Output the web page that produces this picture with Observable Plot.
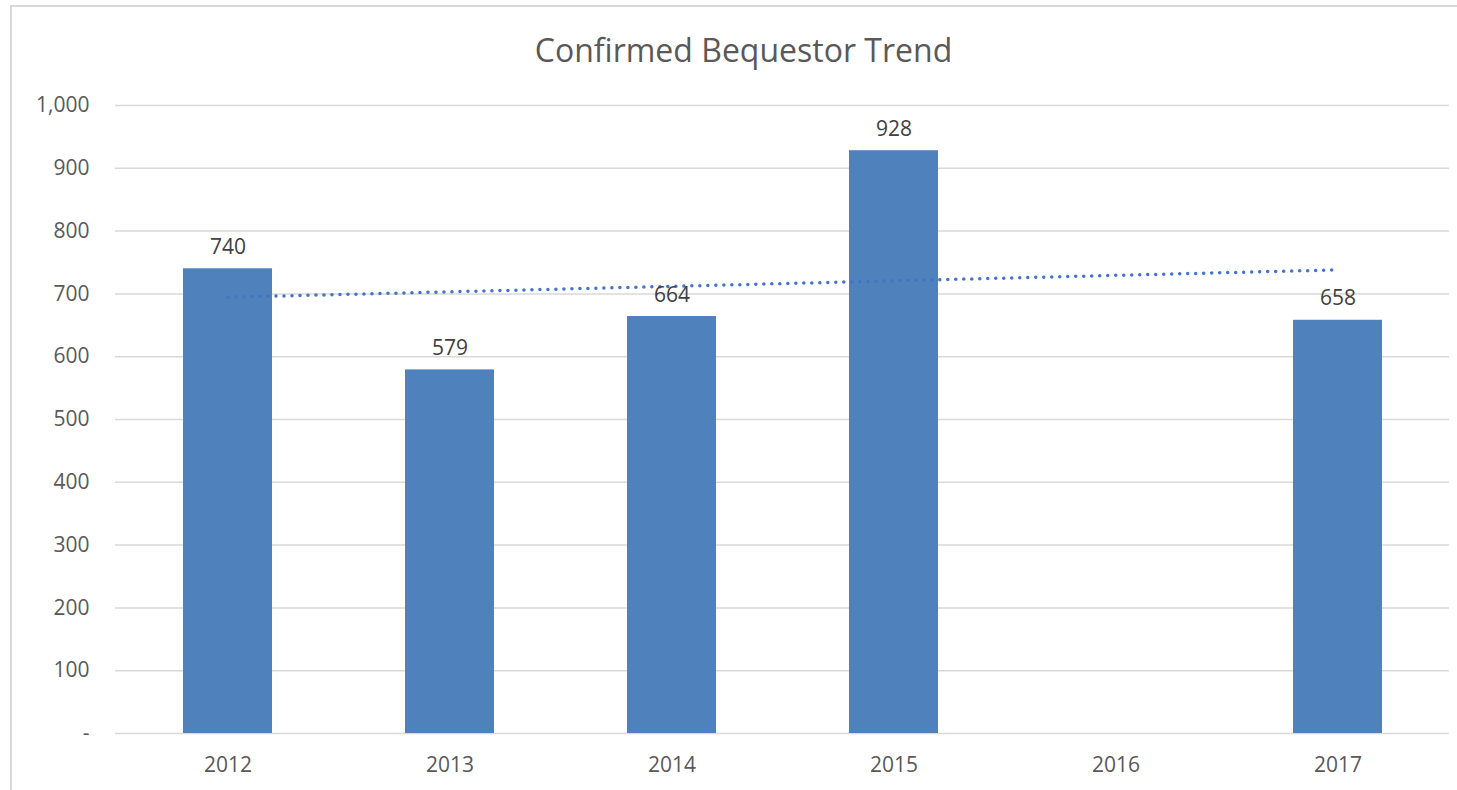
<!DOCTYPE html>
<html>
<head>
<meta charset="utf-8">
<script src="https://cdn.jsdelivr.net/npm/d3@7"></script>
<script src="https://cdn.jsdelivr.net/npm/@observablehq/plot@0.6"></script>
<style>
  html, body { margin: 0; padding: 0; background: #fff; overflow: hidden; }
  body { width: 1457px; height: 790px; position: relative; font-family: "Open Sans", sans-serif; }
  #frame { position: absolute; left: 10px; top: 5px; width: 1460px; height: 800px; border: 2px solid #d9d9d9; box-sizing: border-box; }
  #title { position: absolute; left: 0; top: 0; width: 1487px; height: 80px; text-align: center; line-height: 100px; font-size: 32px; color: #595959; }
  #chart { position: absolute; left: 0; top: 80px; }
</style>
</head>
<body>
<div id="frame"></div>
<div id="title">Confirmed Bequestor Trend</div>
<div id="chart"></div>
<script>
const years = ["2012", "2013", "2014", "2015", "2016", "2017"];
const values = [740, 579, 664, 928, null, 658];
const yTicks = [0, 100, 200, 300, 400, 500, 600, 700, 800, 900, 1000];

const data = years.map((year, i) => ({year, value: values[i], index: i}));
const present = data.filter(d => d.value != null);

// linear trend (least squares) over category index, as in a spreadsheet trendline
const mx = d3.mean(present, d => d.index);
const my = d3.mean(present, d => d.value);
const slope = d3.sum(present, d => (d.index - mx) * (d.value - my)) / d3.sum(present, d => (d.index - mx) ** 2);
const trend = data.map(d => ({year: d.year, value: my + slope * (d.index - mx)}));

const chart = Plot.plot({
  width: 1457,
  height: 710,
  marginLeft: 115,
  marginRight: 8,
  marginTop: 25,
  marginBottom: 57,
  style: {fontFamily: "'Open Sans', sans-serif", fontSize: "21px", color: "#595959", background: "transparent"},
  x: {domain: years, paddingInner: 0.6, paddingOuter: 0.3, label: null, tickSize: 0, tickPadding: 24},
  y: {domain: [0, 1000], ticks: yTicks, label: null, tickSize: 0, tickPadding: 26,
      tickFormat: d => d === 0 ? "-" : d3.format(",")(d)},
  marks: [
    Plot.gridY(yTicks, {stroke: "#d9d9d9", strokeOpacity: 1, strokeWidth: 1.5}),
    Plot.barY(present, {x: "year", y: "value", fill: "#4f81bd"}),
    Plot.line(trend, {x: "year", y: "value", stroke: "#4472c4", strokeWidth: 3.5, strokeDasharray: "0 8", strokeLinecap: "round"}),
    Plot.text(present, {x: "year", y: "value", text: d => d3.format(",")(d.value), lineAnchor: "bottom", dy: -15, fill: "#404040", fontSize: 21})
  ]
});
document.getElementById("chart").appendChild(chart);
</script>
</body>
</html>
